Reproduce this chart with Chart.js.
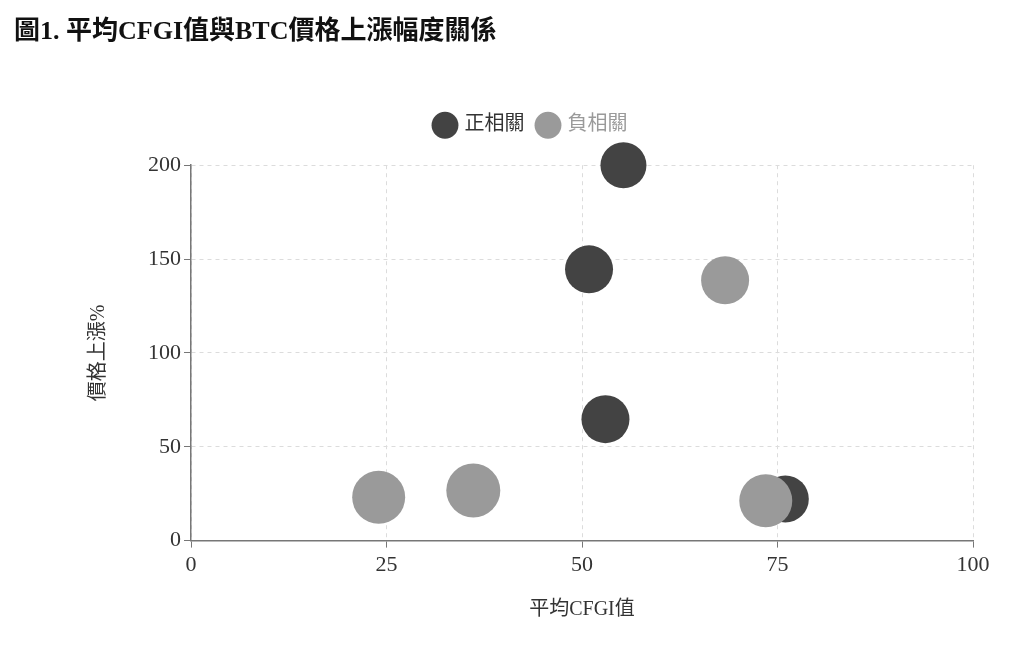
<!DOCTYPE html>
<html>
<head>
<meta charset="utf-8">
<script src="https://cdn.jsdelivr.net/npm/chart.js@4/dist/chart.umd.min.js"></script>
<style>
  html, body { margin: 0; padding: 0; background: #fff; }
  #wrap { width: 1024px; height: 654px; }
</style>
</head>
<body>
<div id="wrap"><canvas id="cfgiChart"></canvas></div>
<script>
// 圖表數據
var titleText = "圖1. 平均CFGI值與BTC價格上漲幅度關係";
var seriesNames = ["正相關", "負相關"];
var posX = [55.3, 50.9, 53.0, 76.0];
var posY = [200, 144.5, 64.7, 22.2];
var posR = [23, 24, 24, 23.5];
var negX = [68.3, 24.0, 36.1, 73.5];
var negY = [138.7, 23.1, 26.7, 21.2];
var negR = [24, 26.5, 27, 26.5];

var darkColor = "#434343";
var greyColor = "#9a9a9a";
var fontStack = "'Liberation Serif', 'Noto Sans CJK TC', serif";

function toPoints(xs, ys, rs) {
    var pts = [];
    for (var i = 0; i < xs.length; i++) {
        pts.push({ x: xs[i], y: ys[i], r: rs[i] });
    }
    return pts;
}

// 圖例下方留白，並將圖例往右移
var legendSpacing = {
    id: "legendSpacing",
    beforeLayout: function (chart) {
        var legend = chart.legend;
        if (legend && !legend._patched) {
            var origFit = legend.fit;
            legend.fit = function () {
                origFit.call(legend);
                legend.height += 20;
            };
            legend._patched = true;
        }
    },
    afterLayout: function (chart) {
        chart.legend.left += 38;
        chart.legend.right += 38;
    }
};

var ctx = document.getElementById("cfgiChart").getContext("2d");

var chart = new Chart(ctx, {
    type: "bubble",
    data: {
        datasets: [{
            label: seriesNames[0],
            data: toPoints(posX, posY, posR),
            backgroundColor: darkColor,
            borderWidth: 0,
            hoverRadius: 0,
            clip: false,
            order: 1
        }, {
            label: seriesNames[1],
            data: toPoints(negX, negY, negR),
            backgroundColor: greyColor,
            borderWidth: 0,
            hoverRadius: 0,
            clip: false,
            order: 0
        }]
    },
    plugins: [legendSpacing],
    options: {
        responsive: true,
        maintainAspectRatio: false,
        animation: false,
        layout: {
            padding: { left: 14, right: 51, top: 12, bottom: 28 }
        },
        plugins: {
            title: {
                display: true,
                text: titleText,
                align: "start",
                color: "#111",
                font: { family: fontStack, size: 26, weight: "bold" },
                padding: { top: 5, bottom: 53 }
            },
            legend: {
                position: "top",
                labels: {
                    usePointStyle: true,
                    pointStyle: "circle",
                    boxWidth: 19,
                    boxHeight: 19,
                    padding: 14,
                    font: { family: fontStack, size: 20 },
                    sort: function (a, b) { return a.datasetIndex - b.datasetIndex; },
                    generateLabels: function (c) {
                        var items = Chart.defaults.plugins.legend.labels.generateLabels(c);
                        items.forEach(function (it) {
                            it.fontColor = it.datasetIndex === 0 ? "#333" : greyColor;
                            it.lineWidth = 0;
                        });
                        return items;
                    }
                }
            },
            tooltip: { enabled: false }
        },
        scales: {
            x: {
                type: "linear",
                min: 0,
                max: 100,
                ticks: {
                    stepSize: 25,
                    color: "#333",
                    padding: 4,
                    font: { family: fontStack, size: 22 }
                },
                grid: {
                    color: "#dcdcdc",
                    tickColor: "#777",
                    tickLength: 7,
                    tickBorderDash: [],
                    lineWidth: 1
                },
                border: { display: true, color: "#777", width: 1.5, dash: [4, 4] },
                title: {
                    display: true,
                    text: "平均CFGI值",
                    color: "#333",
                    font: { family: fontStack, size: 20 },
                    padding: { top: 16 }
                }
            },
            y: {
                type: "linear",
                min: 0,
                max: 200,
                ticks: {
                    stepSize: 50,
                    color: "#333",
                    padding: 3,
                    font: { family: fontStack, size: 22 }
                },
                grid: {
                    color: "#dcdcdc",
                    tickColor: "#777",
                    tickLength: 7,
                    tickBorderDash: [],
                    lineWidth: 1
                },
                border: { display: true, color: "#777", width: 1.5, dash: [4, 4] },
                title: {
                    display: true,
                    text: "價格上漲%",
                    color: "#333",
                    font: { family: fontStack, size: 20 },
                    padding: { top: 73, bottom: 34 }
                }
            }
        }
    }
});
</script>
</body>
</html>
